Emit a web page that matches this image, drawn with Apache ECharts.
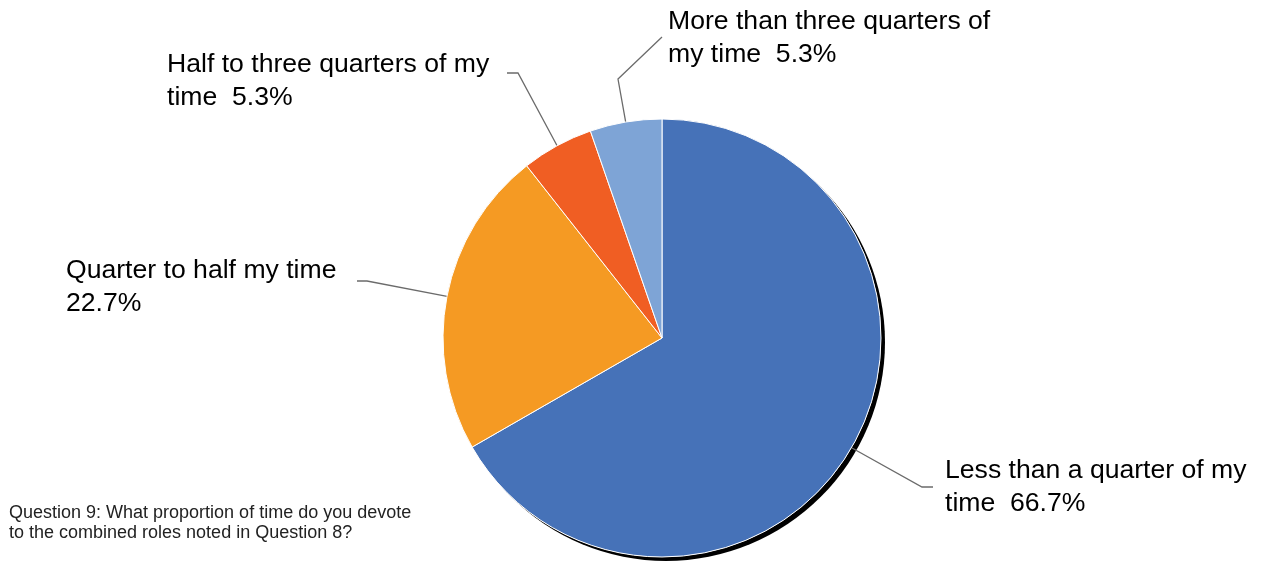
<!DOCTYPE html>
<html>
<head>
<meta charset="utf-8">
<script src="https://cdn.jsdelivr.net/npm/echarts@6/dist/echarts.min.js"></script>
<style>
html,body{margin:0;padding:0;background:#fff;}
#chart{width:1261px;height:561px;}
</style>
</head>
<body>
<div id="chart"></div>
<script>
const categories = [
  'Less than a quarter of my time',
  'Quarter to half my time',
  'Half to three quarters of my time',
  'More than three quarters of my time'
];
const percents = [66.7, 22.7, 5.3, 5.3];
const colors = ['#4672B8', '#F59A23', '#F05E23', '#7EA4D6'];
const footnote = 'Question 9: What proportion of time do you devote\nto the combined roles noted in Question 8?';

const total = percents.reduce((a, b) => a + b, 0);

// label placement (presentation only)
const labelPlace = [
  { x: 945, y: 487, w: 325, pts: [[922, 487], [933, 487]] },
  { x: 66,  y: 287, w: 300, pts: [[367, 281], [357, 281]] },
  { x: 167, y: 81,  w: 345, pts: [[518, 73], [507, 73]] },
  { x: 668, y: 38,  w: 345, pts: [[618, 79], [662, 37]] }
];

const chart = echarts.init(document.getElementById('chart'), null, { renderer: 'canvas' });
const CENTER = [662, 338];
const R = 219;

chart.setOption({
  animation: false,
  backgroundColor: '#fff',
  title: {
    text: footnote,
    left: 9,
    top: 503,
    padding: 0,
    textStyle: {
      fontFamily: 'Liberation Sans, Arial, sans-serif',
      fontSize: 18,
      fontWeight: 'normal',
      lineHeight: 20,
      color: '#222'
    }
  },
  series: [
    {
      type: 'pie',
      silent: true,
      center: CENTER,
      radius: R,
      startAngle: 90,
      label: { show: false },
      labelLine: { show: false },
      emphasis: { disabled: true },
      itemStyle: {
        color: '#fff',
        shadowColor: '#000',
        shadowBlur: 0,
        shadowOffsetX: 4,
        shadowOffsetY: 4
      },
      data: [{ value: total, name: 'shadow' }],
      z: 1
    },
    {
      type: 'pie',
      center: CENTER,
      radius: R,
      startAngle: 90,
      clockwise: true,
      avoidLabelOverlap: false,
      z: 2,
      emphasis: { disabled: true },
      itemStyle: { borderColor: '#fff', borderWidth: 1 },
      data: categories.map((c, i) => ({
        name: c,
        value: percents[i],
        itemStyle: { color: colors[i] },
        label: { width: labelPlace[i].w }
      })),
      label: {
        show: true,
        position: 'outside',
        formatter: p => p.name + '  ' + p.value.toFixed(1) + '%',
        fontFamily: 'Liberation Sans, Arial, sans-serif',
        fontSize: 26.6,
        lineHeight: 33,
        color: '#000',
        overflow: 'break',
        align: 'left'
      },
      labelLine: {
        show: true,
        length: 20,
        length2: 10,
        lineStyle: { color: '#6b6b6b', width: 1.3 }
      },
      labelLayout: function (params) {
        const lp = labelPlace[params.dataIndex];
        const start = params.labelLinePoints ? params.labelLinePoints[0] : lp.pts[0];
        return {
          x: lp.x,
          y: lp.y,
          align: 'left',
          verticalAlign: 'middle',
          labelLinePoints: [start, lp.pts[0], lp.pts[1]]
        };
      }
    }
  ]
});
</script>
</body>
</html>
